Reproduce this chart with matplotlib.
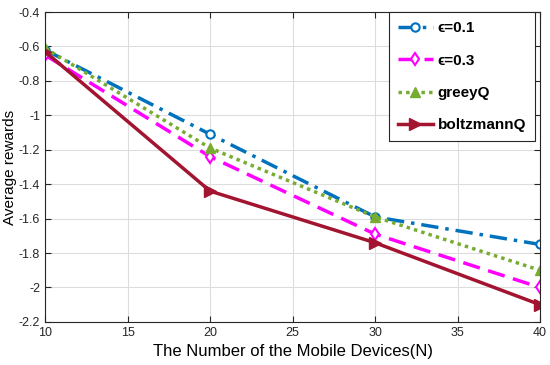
import matplotlib
matplotlib.use('Agg')
import matplotlib.pyplot as plt

devices = [10, 20, 30, 40]
eps01 = [-0.62, -1.11, -1.59, -1.75]
eps03 = [-0.65, -1.24, -1.69, -2.00]
greey = [-0.61, -1.19, -1.59, -1.90]
boltz = [-0.63, -1.44, -1.74, -2.10]

plt.rcParams['font.family'] = ['Liberation Sans', 'DejaVu Sans']

fig = plt.figure(figsize=(5.5, 3.65), dpi=100)
ax = fig.add_axes([0.082, 0.118, 0.9, 0.849])

ax.plot(devices, eps01, color='#0072BD', ls='-.', dashes=(5, 2, 1, 2), lw=2.5,
        marker='o', ms=6, mfc='white', mew=1.5, label='ϵ=0.1')
ax.plot(devices, eps03, color='#FF00FF', ls='--', dashes=(5, 2.5), lw=2.5,
        marker='d', ms=6, mfc='white', mew=1.5, label='ϵ=0.3')
ax.plot(devices, greey, color='#77AC30', ls=':', dashes=(1, 1.2), lw=2.5,
        marker='^', ms=7, label='greeyQ')
ax.plot(devices, boltz, color='#A2142F', ls='-', lw=2.5, marker='>', ms=8,
        label='boltzmannQ')

ax.set_xlim(10, 40)
ax.set_ylim(-2.2, -0.4)
ax.set_xticks(range(10, 41, 5))
ax.set_yticks([-2.2, -2, -1.8, -1.6, -1.4, -1.2, -1, -0.8, -0.6, -0.4])
ax.set_yticklabels(['-2.2', '-2', '-1.8', '-1.6', '-1.4', '-1.2', '-1', '-0.8', '-0.6', '-0.4'])
ax.tick_params(labelsize=9, direction='in', length=4, colors='#262626', top=True, right=True)
ax.grid(True, color='#dddddd', lw=0.8)
for s in ax.spines.values():
    s.set_color('#262626')
    s.set_linewidth(0.8)

ax.set_xlabel('The Number of the Mobile Devices(N)', fontsize=12)
ax.set_ylabel('Average rewards', fontsize=11)
ax.yaxis.set_label_coords(-0.057, 0.5)

leg = ax.legend(loc='upper right', bbox_to_anchor=(0.99, 1.0), borderaxespad=0,
                prop={'weight': 'bold', 'size': 11},
                fancybox=False, edgecolor='#262626', framealpha=1,
                handlelength=2.3, handletextpad=0.3, borderpad=0.6, labelspacing=1.2)
leg.get_frame().set_linewidth(0.8)

fig.savefig('out.png', dpi=100)
